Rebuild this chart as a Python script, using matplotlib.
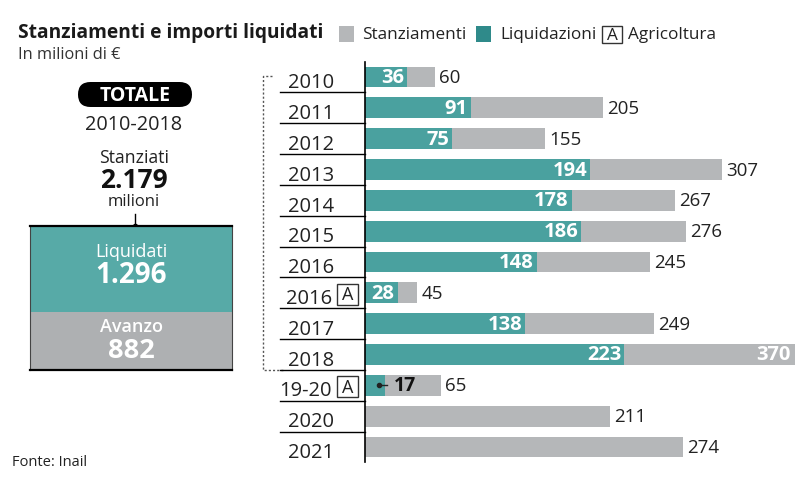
import matplotlib.pyplot as plt
from matplotlib.patches import Rectangle, FancyBboxPatch

plt.rcParams['font.family'] = ['Open Sans', 'DejaVu Sans']

# dati (milioni di euro)
labels = ["2010", "2011", "2012", "2013", "2014", "2015", "2016", "2016",
          "2017", "2018", "19-20", "2020", "2021"]
agricoltura = [False, False, False, False, False, False, False, True,
               False, False, True, False, False]
stanziamenti = [60, 205, 155, 307, 267, 276, 245, 45, 249, 370, 65, 211, 274]
liquidazioni = [36, 91, 75, 194, 178, 186, 148, 28, 138, 223, 17, None, None]

tot_stanziati = "2.179"
tot_liquidati = 1296
tot_avanzo = 882

TEAL = "#4aa19f"
TEAL_BOX = "#57aaa7"
TEAL_DARK = "#2f8a8a"
GRAY = "#b5b7b9"
GRAY_BOX = "#aeb0b2"

W, H = 800, 481
fig = plt.figure(figsize=(8, 4.81), dpi=100)


def rect(x0, y0, x1, y1):
    # pixel box (top-left origin) -> figure fraction
    return [x0 / W, 1 - y1 / H, (x1 - x0) / W, (y1 - y0) / H]


# overlay in pixel units for titles and decorations
deco = fig.add_axes([0, 0, 1, 1])
deco.set_xlim(0, W)
deco.set_ylim(H, 0)
deco.axis('off')

deco.text(18, 33, "Stanziamenti e importi liquidati", fontsize=13.8,
          fontweight='bold', va='center', color='#1a1a1a')
deco.text(18, 55, "In milioni di €", fontsize=11.8, va='center', color='#333333')
deco.text(12, 463, "Fonte: Inail", fontsize=10.5, va='center', color='#222222')

# legend
deco.add_patch(Rectangle((339, 27), 15, 16, color=GRAY, lw=0))
deco.text(362, 35, "Stanziamenti", fontsize=12.3, va='center', color='#222222')
deco.add_patch(Rectangle((476, 27), 15, 16, color=TEAL_DARK, lw=0))
deco.text(500, 35, "Liquidazioni", fontsize=12.3, va='center', color='#222222')
deco.add_patch(Rectangle((602, 27), 20, 17, fill=False, ec='#333333', lw=1))
deco.text(612, 35.5, "A", fontsize=12.3, ha='center', va='center', color='#222222')
deco.text(628, 35, "Agricoltura", fontsize=12.3, va='center', color='#222222')

# left panel
deco.add_patch(FancyBboxPatch((78, 83), 114, 25, boxstyle="round,pad=0,rounding_size=12.5",
                              fc='black', ec='none'))
deco.text(135, 96, "TOTALE", fontsize=14, fontweight='bold', color='white',
          ha='center', va='center')
deco.text(134, 125, "2010-2018", fontsize=14.3, ha='center', va='center', color='#222222')
deco.text(134, 158, "Stanziati", fontsize=12.7, ha='center', va='center', color='#222222')
deco.text(134, 181, tot_stanziati, fontsize=19, fontweight='bold', ha='center',
          va='center', color='#111111')
deco.text(134, 202, "milioni", fontsize=12, ha='center', va='center', color='#222222')
deco.plot([135, 135], [215, 227], color='black', lw=1)
deco.plot([135], [227], marker='o', ms=3, color='black')

box = fig.add_axes(rect(30, 227, 232, 371))
box.bar(0, tot_avanzo, width=1, color=GRAY_BOX)
box.bar(0, tot_liquidati, bottom=tot_avanzo, width=1, color=TEAL_BOX)
box.set_xlim(-0.5, 0.5)
box.set_ylim(0, tot_avanzo + tot_liquidati)
box.set_xticks([])
box.set_yticks([])
for s in ['top', 'bottom']:
    box.spines[s].set_linewidth(1.6)
for s in ['left', 'right']:
    box.spines[s].set_linewidth(0.8)
    box.spines[s].set_color('#444444')
box.text(0, tot_avanzo + tot_liquidati * 0.71, "Liquidati", fontsize=13,
         color='white', ha='center', va='center')
box.text(0, tot_avanzo + tot_liquidati * 0.43, f"{tot_liquidati:,}".replace(",", "."),
         fontsize=20, fontweight='bold', color='white', ha='center', va='center')
box.text(0, tot_avanzo * 0.75, "Avanzo", fontsize=13, fontweight='semibold',
         color='white', ha='center', va='center')
box.text(0, tot_avanzo * 0.35, str(tot_avanzo), fontsize=19.5, fontweight='bold',
         color='white', ha='center', va='center')

# dotted bracket 2010-2018
deco.plot([272, 263, 263, 283], [77, 77, 371, 371], color='#555555', lw=1,
          ls=(0, (1.5, 1.5)))

# main bars
ax = fig.add_axes(rect(365, 62.6, 795, 463.4))
n = len(labels)
rows = list(range(n))
ax.barh(rows, stanziamenti, height=0.68, color=GRAY)
liq_rows = [i for i in rows if liquidazioni[i] is not None]
ax.barh(liq_rows, [liquidazioni[i] for i in liq_rows], height=0.68, color=TEAL)
ax.set_xlim(0, max(stanziamenti))
ax.set_ylim(n - 0.5, -0.5)
ax.set_xticks([])
ax.set_yticks([])
for s in ['top', 'bottom', 'right']:
    ax.spines[s].set_visible(False)
ax.spines['left'].set_linewidth(1.2)

px = max(stanziamenti) / 430.0  # data units per pixel

for i in rows:
    # row label
    if agricoltura[i]:
        ax.text(-33 * px, i + 0.33, labels[i], fontsize=14.5, ha='right',
                va='baseline', color='#222222', clip_on=False)
        ax.add_patch(Rectangle((-28 * px, i - 0.3), 21 * px, 0.68,
                               fill=False, ec='#333333', lw=1, clip_on=False))
        ax.text(-17.5 * px, i + 0.05, "A", fontsize=13, ha='center',
                va='center', color='#222222', clip_on=False)
    else:
        ax.text(-77 * px, i + 0.33, labels[i], fontsize=14.5, ha='left',
                va='baseline', color='#222222', clip_on=False)
    if i < n - 1:
        ax.plot([-85 * px, 0], [i + 0.5, i + 0.5], color='black', lw=1,
                clip_on=False)

    # total
    tot = stanziamenti[i]
    if tot == max(stanziamenti):
        ax.text(tot - 4 * px, i, str(tot), fontsize=14.5, fontweight='bold',
                color='white', ha='right', va='center')
    else:
        ax.text(tot + 4 * px, i, str(tot), fontsize=13.5, color='#222222',
                ha='left', va='center')

    # liquidations
    liq = liquidazioni[i]
    if liq is None:
        continue
    if liq < 20:
        ax.plot([liq - 6 * px, liq + 2 * px], [i, i], color='#222222', lw=1)
        ax.plot([liq - 6 * px], [i], marker='o', ms=3, color='#222222')
        ax.text(liq + 9 * px, i, str(liq), fontsize=14, fontweight='bold',
                color='#111111', ha='left', va='center')
    else:
        ax.text(liq - 3 * px, i, str(liq), fontsize=14.5, fontweight='bold',
                color='white', ha='right', va='center')

fig.savefig("out.png", dpi=100)
